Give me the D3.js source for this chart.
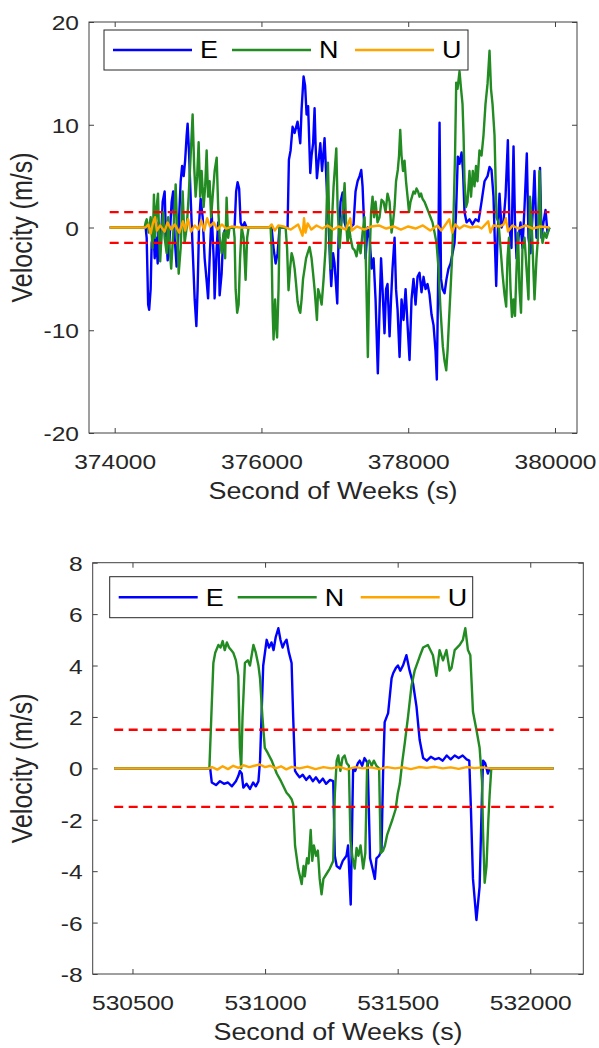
<!DOCTYPE html>
<html>
<head>
<meta charset="utf-8">
<script src="https://cdn.jsdelivr.net/npm/d3@7"></script>
<style>
  body { margin: 0; background: #fff; }
  text { font-family: "Liberation Sans", Arial, Helvetica, sans-serif; }
</style>
</head>
<body>
<div id="chart"></div>
<script>
// ----------------------
// Data (time in s, velocity in m/s)
// ----------------------
const topE = [[373932,0],[374422,0],[374436,-1],[374456,-7.5],[374470,-8.0],[374490,-6],[374504,-1.5],[374531,-0.5],[374545,-3],[374565,-1],[374586,-3.5],[374599,0.5],[374626,-2],[374654,2.5],[374681,3.5],[374695,0],[374722,-3.2],[374749,-1],[374776,2.5],[374797,3.5],[374817,-1],[374844,-3.8],[374872,0],[374899,4.5],[374919,6.0],[374940,5.0],[374960,6.5],[374981,9.0],[374994,10.1],[375015,7],[375035,3],[375062,-2],[375090,-7],[375113,-9.6],[375130,-6],[375151,0.5],[375171,2.8],[375199,1],[375226,-3],[375253,-5.2],[375273,-6.9],[375294,-3],[375321,1.5],[375349,-3],[375362,-6.9],[375390,-2],[375410,0.5],[375430,-6.6],[375457,-4.5],[375478,-1],[375498,-0.3],[375539,0],[375634,0],[375655,3.5],[375675,4.4],[375696,3.8],[375716,0.5],[375743,0],[375770,0.5],[375798,0],[376138,0],[376165,-2],[376193,-3.5],[376220,-2.5],[376247,0],[376356,0],[376374,6.6],[376397,7.5],[376424,9.8],[376452,9.2],[376492,10.3],[376529,8.2],[376547,11.5],[376574,14.7],[376595,13.8],[376615,11.0],[376636,11.8],[376665,5.3],[376683,7.0],[376704,8.2],[376724,11.6],[376738,8],[376756,4.8],[376779,6.5],[376802,8.2],[376826,5.5],[376860,8.7],[376892,3.5],[376915,0.5],[376935,-3.5],[376951,-5.7],[376976,-2.5],[376996,-3.5],[377033,-7.4],[377051,-1],[377078,2.5],[377106,3.4],[377133,0.5],[377174,-0.5],[377214,0],[377255,0.3],[377282,3.5],[377310,4.5],[377337,5.0],[377360,5.6],[377378,4.0],[377398,0.5],[377419,-3],[377446,0],[377473,-1],[377501,-4],[377528,-3],[377555,-7],[377586,-14.2],[377609,-8],[377630,-3],[377650,-6],[377677,-10.3],[377698,-6],[377718,-5.5],[377746,-10.6],[377766,-7],[377786,-4],[377814,-1],[377834,-6],[377855,-8],[377882,-12.6],[377909,-7],[377936,-9],[377964,-6],[377991,-9.5],[378018,-12.9],[378045,-7],[378072,-5],[378100,-7.5],[378127,-4.8],[378154,-4.4],[378181,-6.3],[378209,-4.8],[378236,-6],[378263,-5.5],[378290,-6.5],[378318,-8.5],[378345,-9.5],[378372,-12],[378390,-14.8],[378406,-6],[378427,10.2],[378447,-5],[378468,-6],[378495,-6.4],[378522,-5],[378549,-4],[378577,-3.5],[378604,-2.5],[378631,-1.5],[378652,1.5],[378676,6.9],[378699,6.2],[378727,7.3],[378747,5.5],[378767,1.5],[378795,0.5],[378835,0.8],[378876,0.3],[378917,0.8],[378958,0.6],[378999,2.5],[379040,4.5],[379081,5.0],[379108,5.9],[379135,5.6],[379162,3],[379183,-2],[379199,-5.7],[379217,-1],[379244,3.3],[379271,0],[379298,0.5],[379326,3.0],[379358,8.5],[379380,0],[379407,-2],[379435,7.9],[379455,0.5],[379476,-3],[379503,-1],[379530,0.5],[379557,-2],[379585,2],[379616,7.2],[379639,-1],[379666,-2.5],[379693,1],[379721,5.5],[379748,-1],[379775,0.5],[379796,5.8],[379816,-1],[379843,0.5],[379871,1.7],[379898,-0.5],[379925,0]];

const topN = [[373932,0],[374408,0],[374422,0.5],[374436,0.8],[374463,-0.5],[374490,1],[374517,-2],[374535,3.2],[374551,-1],[374572,2],[374590,3.3],[374606,-1],[374620,-3.3],[374640,-0.5],[374661,1.5],[374681,-1],[374708,-2.5],[374729,1],[374749,-2],[374770,-4.0],[374790,-1.5],[374811,1],[374831,4.2],[374851,0],[374872,-4.5],[374899,-2],[374926,3.5],[374953,-1.5],[374981,0],[375008,3],[375035,7],[375062,11.0],[375083,6],[375103,3],[375124,5],[375144,8.3],[375165,3],[375185,5.5],[375212,2],[375233,4],[375253,7.5],[375273,3],[375294,4.5],[375314,1],[375335,3],[375362,5.5],[375390,6.8],[375410,2],[375430,-1],[375457,-2.5],[375485,-0.5],[375505,-3],[375525,2.9],[375546,-1],[375566,0],[375621,0],[375634,-1],[375648,-6],[375669,-8.3],[375689,-7.5],[375709,-3],[375730,0],[375757,-1],[375784,-5.1],[375805,-1],[375825,0],[376125,0],[376138,-2],[376152,-8],[376165,-10.9],[376186,-7],[376199,-9.5],[376213,-10.7],[376233,-6],[376247,0],[376329,0],[376349,-2],[376369,-6.1],[376390,-4],[376411,-2.5],[376431,-3],[376452,-4],[376472,-5.5],[376492,-7.2],[376513,-8.0],[376529,-8.3],[376547,-7],[376567,-5],[376588,-4],[376608,-3],[376629,-2.5],[376656,-1.9],[376683,-3],[376704,-4.5],[376724,-6],[376756,-9.0],[376772,-6],[376792,-6.5],[376820,-7.5],[376847,-5],[376874,-2],[376892,3],[376906,6.3],[376922,1],[376942,-4],[376963,1],[376983,4],[377020,7.7],[377038,2],[377065,-2],[377085,0],[377106,1.5],[377133,4.3],[377153,0.5],[377174,-1.5],[377194,0],[377214,-1],[377242,-2],[377269,-2.2],[377296,-2.8],[377324,-1.5],[377351,-2.5],[377378,-0.5],[377405,1],[377425,-4],[377450,-12.6],[377473,-3],[377494,1.5],[377514,3],[377535,1],[377555,2.5],[377582,0.5],[377609,1],[377637,2.7],[377664,2.5],[377691,1.5],[377718,3.3],[377746,2.5],[377773,-0.5],[377793,0.5],[377814,2],[377834,4.5],[377858,5.6],[377875,7],[377891,9.5],[377909,7],[377929,5.5],[377950,6.5],[377970,4.5],[377991,3],[378011,1.5],[378031,2.5],[378052,3.0],[378072,3.5],[378093,3.3],[378113,3.8],[378134,3.5],[378154,3.0],[378175,3.3],[378195,2.8],[378222,2.5],[378250,2],[378277,1.5],[378304,1],[378331,0.5],[378359,-0.5],[378386,-1.5],[378413,-4],[378440,-8],[378472,-11.6],[378495,-13.0],[378518,-13.9],[378536,-12],[378556,-9],[378577,-6],[378597,-3],[378617,1],[378638,7],[378654,14.1],[378672,13.5],[378699,15.2],[378720,13.5],[378740,12],[378754,9],[378767,4.5],[378788,2],[378808,2.5],[378835,5.5],[378856,3],[378880,5.5],[378903,4],[378924,6],[378944,4.5],[378971,7.5],[378999,7.0],[379026,9],[379053,12],[379081,14],[379108,17.2],[379128,13.5],[379149,12],[379176,9],[379203,1],[379230,0.5],[379258,-2],[379285,-4.5],[379312,-6.5],[379335,-7.7],[379353,-3],[379373,-1],[379394,-6],[379414,-8.7],[379435,-7],[379455,-8.6],[379476,-4],[379496,-0.5],[379516,-6],[379537,-8.3],[379557,-2],[379585,-1],[379612,-4],[379639,-7],[379659,3],[379680,1],[379700,-3],[379721,-7],[379748,-3],[379768,-1],[379789,5.5],[379809,0],[379830,-1.5],[379857,-0.5],[379884,-1],[379911,-0.3],[379925,0]];

const topU = [[373932,0],[374420,0],[374460,0.3],[374490,-0.6],[374520,0.4],[374550,1.0],[374575,-0.3],[374620,0.2],[374680,-0.4],[374720,0.5],[374770,-0.2],[374820,0.3],[374880,-0.5],[374930,0.6],[374960,-0.3],[375000,0.8],[375040,-0.4],[375090,0.2],[375140,-0.2],[375180,0.7],[375220,-0.3],[375260,0.9],[375300,0.1],[375350,0.5],[375400,-0.2],[375460,0.3],[375520,-0.1],[375600,0.1],[375700,0],[375850,0],[376100,0],[376140,0.3],[376180,-0.3],[376230,0.2],[376300,0.1],[376400,-0.2],[376500,0.3],[376560,-0.8],[376580,0.9],[376600,-0.5],[376630,0.4],[376680,-0.2],[376750,0.2],[376830,-0.1],[376900,0.2],[376980,-0.2],[377050,0.1],[377150,-0.2],[377210,0.9],[377230,-0.3],[377300,0.1],[377400,-0.2],[377500,0.1],[377600,0.2],[377700,-0.1],[377800,0.1],[377900,-0.2],[378000,0.1],[378100,-0.1],[378200,0.2],[378300,-0.3],[378400,0.2],[378450,-0.3],[378500,0.2],[378560,0.8],[378600,-0.5],[378640,0.3],[378700,-0.1],[378760,0.2],[378850,0],[378950,0.1],[379000,-0.1],[379090,0.6],[379120,-0.5],[379160,0.2],[379250,0.1],[379300,0.3],[379330,0.9],[379360,-0.4],[379420,0.2],[379500,-0.1],[379600,0.2],[379700,-0.1],[379800,0.1],[379925,0]];

const botE = [[530431,0],[530793,0],[530799,-0.55],[530815,-0.65],[530830,-0.5],[530845,-0.6],[530860,-0.55],[530875,-0.7],[530890,-0.5],[530899,-0.3],[530905,-0.1],[530912,-0.2],[530918,-0.75],[530930,-0.6],[530943,-0.8],[530955,-0.55],[530965,-0.7],[530975,-0.5],[530981,0.3],[530993,4.0],[531006,5.0],[531015,4.7],[531024,4.9],[531032,4.6],[531040,5.1],[531050,5.45],[531058,5.0],[531066,4.7],[531074,4.9],[531081,5.0],[531090,4.5],[531100,4.1],[531106,2.0],[531113,-0.1],[531119,-0.2],[531130,-0.35],[531142,-0.25],[531155,-0.45],[531168,-0.3],[531180,-0.5],[531192,-0.35],[531205,-0.55],[531218,-0.4],[531230,-0.6],[531245,-0.45],[531257,-0.5],[531263,-3.4],[531270,-3.8],[531282,-3.9],[531293,-3.6],[531307,-3.4],[531313,-3.0],[531323,-5.3],[531332,0],[531340,-0.1],[531350,0.2],[531357,0.3],[531366,0.1],[531375,0.4],[531387,0.2],[531396,-3.5],[531403,-3.8],[531414,-4.3],[531420,-3.5],[531430,-3.4],[531439,-3.2],[531445,-0.2],[531451,1.8],[531464,2.15],[531477,3.5],[531483,3.7],[531493,3.9],[531501,4.0],[531510,3.8],[531520,4.0],[531533,4.4],[531545,3.8],[531558,3.3],[531571,2.4],[531583,1.1],[531596,0.4],[531610,0.3],[531625,0.45],[531640,0.35],[531655,0.4],[531670,0.3],[531685,0.5],[531700,0.35],[531715,0.5],[531730,0.4],[531745,0.5],[531760,0.35],[531770,0.3],[531776,-1.5],[531784,-4.3],[531797,-5.9],[531809,-4.6],[531818,-1],[531822,0.3],[531830,0.2],[531840,-0.2],[531847,0],[532088,0]];

const botN = [[530431,0],[530790,0],[530799,2.5],[530805,4.1],[530812,4.5],[530824,4.8],[530832,4.7],[530840,4.95],[530848,4.6],[530856,4.9],[530864,4.7],[530872,4.6],[530880,4.5],[530890,4.2],[530899,3.6],[530905,0.8],[530910,0],[530915,2],[530924,4.1],[530935,4.2],[530943,4.0],[530956,4.8],[530965,4.5],[530975,4.0],[530981,3.5],[530990,2],[530999,0.8],[531010,0.6],[531025,0.3],[531044,-0.2],[531060,-0.5],[531081,-0.95],[531090,-1.05],[531100,-1.2],[531106,-1.4],[531113,-3.0],[531125,-3.9],[531138,-4.5],[531145,-3.8],[531150,-4.2],[531158,-3.5],[531164,-3.7],[531172,-2.4],[531178,-3.6],[531184,-3.0],[531192,-3.4],[531199,-3.2],[531206,-4.3],[531213,-4.9],[531220,-4.3],[531232,-4.1],[531244,-3.9],[531257,-3.6],[531263,-1],[531270,0.3],[531276,0.5],[531284,-0.1],[531292,0.4],[531300,0.5],[531308,0.2],[531316,0.1],[531322,-2.8],[531330,-3.5],[531338,-3.9],[531345,-3.1],[531352,-3.4],[531360,-3.0],[531370,-3.9],[531378,-3.3],[531385,0.2],[531393,0.3],[531402,0.1],[531410,0.3],[531420,0.1],[531430,0],[531436,-3.3],[531445,-3.2],[531452,-3.0],[531460,-2.6],[531470,-2.3],[531480,-2.0],[531492,-1.6],[531500,-1.0],[531508,-0.6],[531518,0.3],[531527,1.0],[531539,2.0],[531552,3.2],[531564,3.8],[531583,4.35],[531596,4.7],[531614,4.8],[531633,4.4],[531646,3.6],[531658,4.6],[531671,4.2],[531684,4.6],[531696,3.8],[531703,3.9],[531715,4.6],[531734,4.8],[531746,5.0],[531755,5.45],[531765,4.6],[531774,4.4],[531784,2.2],[531797,1.5],[531809,0.8],[531818,-0.5],[531822,-2.5],[531828,-4.45],[531835,-3.8],[531842,-2.0],[531847,-1.0],[531853,0],[532088,0]];

const botU = [[530431,0],[530790,0],[530800,0.05],[530820,-0.05],[530840,0.08],[530860,-0.03],[530880,0.1],[530900,0.02],[530920,0.12],[530940,0.05],[530960,0.1],[530980,0.15],[531000,0.05],[531020,0.1],[531040,0],[531060,0.08],[531080,-0.04],[531100,0.06],[531130,0],[531160,0.07],[531190,-0.03],[531220,0.05],[531250,0],[531280,0.06],[531310,-0.04],[531340,0.05],[531370,0],[531400,0.04],[531430,-0.03],[531460,0.05],[531490,0],[531520,0.04],[531550,-0.03],[531580,0.05],[531610,0.02],[531640,0.06],[531670,0],[531700,0.04],[531730,-0.02],[531760,0.05],[531790,0.01],[531820,0.04],[531850,0],[532088,0]];

const seriesNames = ["E", "N", "U"];
const threshold = 1.5;

const topXTicks = [374000, 376000, 378000, 380000];
const topYTicks = [-20, -10, 0, 10, 20];
const botXTicks = [530500, 531000, 531500, 532000];
const botYTicks = [-8, -6, -4, -2, 0, 2, 4, 6, 8];

// ----------------------
// Layout / styles
// ----------------------
const colors = { E: "#0000ff", N: "#228b22", U: "#ffa500" };
const ink = "#262626";
const SX = 1.17; // source glyphs are horizontally stretched

const panels = [
    { left: 89, right: 577, top: 22, bottom: 433,
      xDomain: [373650, 380300], yDomain: [-20, 20],
      xTicks: topXTicks, yTicks: topYTicks,
      series: { E: topE, N: topN, U: topU },
      legend: { dx: 15, dy: 8, w: 364, h: 40 } },
    { left: 92.7, right: 583.3, top: 562.7, bottom: 974,
      xDomain: [530350, 532200], yDomain: [-8, 8],
      xTicks: botXTicks, yTicks: botYTicks,
      series: { E: botE, N: botN, U: botU },
      legend: { dx: 17, dy: 14, w: 363, h: 41 } }
];

const svg = d3.select("#chart")
    .append("svg")
    .attr("width", 599)
    .attr("height", 1048)
    .style("background", "#fff");

function styleAxis(sel) {
    sel.select(".domain").remove();
    sel.selectAll(".tick line").attr("stroke", "#404040");
    sel.selectAll("text")
        .attr("fill", ink)
        .style("font-size", "21px");
}

panels.forEach(p => {
    const x = d3.scaleLinear().domain(p.xDomain).range([p.left, p.right]);
    const y = d3.scaleLinear().domain(p.yDomain).range([p.bottom, p.top]);
    const g = svg.append("g");

    // ----------------------
    // Axes (ticks inward, on all four sides)
    // ----------------------
    const fmt = d => String(d);

    const xb = g.append("g")
        .attr("transform", `translate(0,${p.bottom})`)
        .call(d3.axisBottom(x).tickValues(p.xTicks).tickSizeInner(-5).tickSizeOuter(0).tickFormat(fmt));
    styleAxis(xb);
    xb.selectAll("text")
        .attr("y", 36).attr("dy", null)
        .attr("transform", `scale(${SX},1)`);

    const yl = g.append("g")
        .attr("transform", `translate(${p.left},0)`)
        .call(d3.axisLeft(y).tickValues(p.yTicks).tickSizeInner(-5).tickSizeOuter(0).tickFormat(fmt));
    styleAxis(yl);
    yl.selectAll("text")
        .attr("x", -10 / SX).attr("y", 7.5).attr("dy", null)
        .attr("transform", `scale(${SX},1)`);

    const xt = g.append("g")
        .attr("transform", `translate(0,${p.top})`)
        .call(d3.axisTop(x).tickValues(p.xTicks).tickSizeInner(-5).tickSizeOuter(0).tickFormat(""));
    styleAxis(xt);

    const yr = g.append("g")
        .attr("transform", `translate(${p.right},0)`)
        .call(d3.axisRight(y).tickValues(p.yTicks).tickSizeInner(-5).tickSizeOuter(0).tickFormat(""));
    styleAxis(yr);

    g.append("rect")
        .attr("x", p.left).attr("y", p.top)
        .attr("width", p.right - p.left).attr("height", p.bottom - p.top)
        .attr("fill", "none").attr("stroke", "#404040").attr("stroke-width", 1);

    // ----------------------
    // Series
    // ----------------------
    const line = d3.line().x(d => x(d[0])).y(d => y(d[1]));

    seriesNames.forEach(name => {
        g.append("path")
            .datum(p.series[name])
            .attr("d", line)
            .attr("fill", "none")
            .attr("stroke", colors[name])
            .attr("stroke-width", 2.4)
            .attr("stroke-linejoin", "round");
    });

    // threshold lines at +/- 1.5 m/s over the data span
    const span = d3.extent(p.series.E, d => d[0]);
    [threshold, -threshold].forEach(v => {
        g.append("line")
            .attr("x1", x(span[0])).attr("x2", x(span[1]))
            .attr("y1", y(v)).attr("y2", y(v))
            .attr("stroke", "#ff0000")
            .attr("stroke-width", 2.4)
            .attr("stroke-dasharray", "9,5.5");
    });

    // ----------------------
    // Axis labels
    // ----------------------
    g.append("text")
        .attr("transform", `translate(${(p.left + p.right) / 2},${p.bottom + 66}) scale(${SX},1)`)
        .attr("text-anchor", "middle")
        .attr("fill", ink)
        .style("font-size", "23px")
        .text("Second of Weeks (s)");

    g.append("text")
        .attr("transform", `translate(32,${(p.top + p.bottom) / 2}) scale(${SX},1) rotate(-90)`)
        .attr("text-anchor", "middle")
        .attr("fill", ink)
        .style("font-size", "25px")
        .text("Velocity (m/s)");

    // ----------------------
    // Legend
    // ----------------------
    const lx = p.left + p.legend.dx, ly = p.top + p.legend.dy;
    const lg = g.append("g").attr("transform", `translate(${lx},${ly})`);
    lg.append("rect")
        .attr("width", p.legend.w).attr("height", p.legend.h)
        .attr("fill", "#fff").attr("stroke", ink).attr("stroke-width", 1);

    const itemX = [9, 128, 251];
    seriesNames.forEach((name, i) => {
        lg.append("line")
            .attr("x1", itemX[i]).attr("x2", itemX[i] + 79)
            .attr("y1", p.legend.h / 2).attr("y2", p.legend.h / 2)
            .attr("stroke", colors[name]).attr("stroke-width", 2.4);
        lg.append("text")
            .attr("transform", `translate(${itemX[i] + 87},${p.legend.h / 2 + 8.3}) scale(${SX},1)`)
            .attr("fill", "#000")
            .style("font-size", "23px")
            .text(name);
    });
});
</script>
</body>
</html>
